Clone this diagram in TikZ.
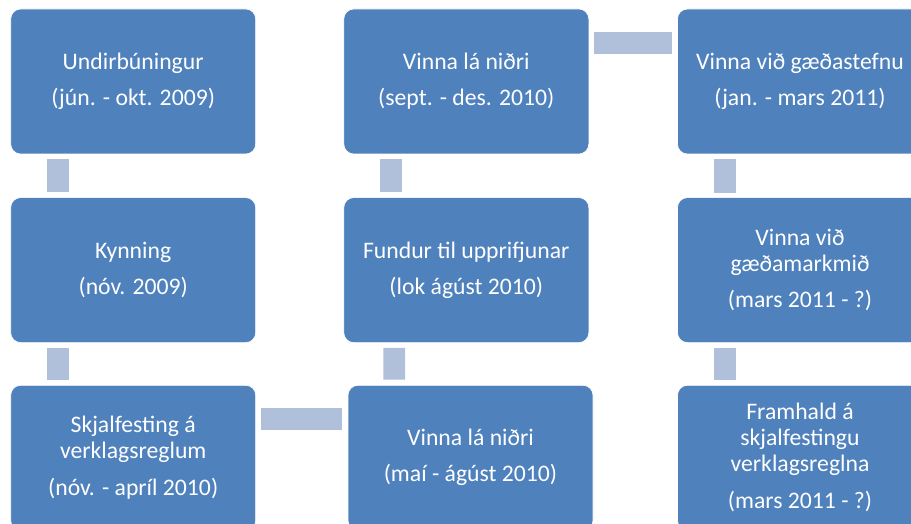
\documentclass[tikz,border=0pt]{standalone}
\usepackage{fontspec}
\setmainfont{Carlito}
\usetikzlibrary{positioning}
\definecolor{stageblue}{RGB}{79,129,189}
\definecolor{linkblue}{RGB}{176,191,218}

\begin{document}
\begin{tikzpicture}[
  x=1pt, y=-1pt,
  stage/.style = {draw=white, semithick, rounded corners=10pt, fill=stageblue, text=white,
                  align=center, minimum width=245pt, minimum height=145pt, inner sep=0pt,
                  font=\fontsize{23.7}{26}\selectfont},
  link/.style  = {linkblue, line width=21.8pt},
  hlink/.style = {linkblue, line width=22.3pt}]

\useasboundingbox (0,0) rectangle (911,524);
\clip (0,0) rectangle (911,524);

% stages: down the first column, up the middle one, down the last
\node[stage] (s1) at (133.2,81.5)  {Undirbúningur\\[10pt](jún. - okt. 2009)};
\node[stage] (s2) at (133.2,270.1) {Kynning\\[10pt](nóv. 2009)};
\node[stage] (s3) at (133.2,457.8) {Skjalfesting á\\verklagsreglum\\[11pt](nóv. - apríl 2010)};
\node[stage] (s4) at (470.5,457.8) {Vinna lá niðri\\[10pt](maí - ágúst 2010)};
\node[stage] (s5) at (466.3,270.1) {Fundur til upprifjunar\\[10pt](lok ágúst 2010)};
\node[stage] (s6) at (466.3,81.5)  {Vinna lá niðri\\[10pt](sept. - des. 2010)};
\node[stage] (s7) at (800,81.5)    {Vinna við gæðastefnu\\[10pt](jan. - mars 2011)};
\node[stage] (s8) at (800,270.1)   {Vinna við\\gæðamarkmið\\[10pt](mars 2011 - ?)};
\node[stage] (s9) at (800,457.8)   {Framhald á\\skjalfestingu\\verklagsreglna\\[11pt](mars 2011 - ?)};

% connecting bars
\draw[link] ([xshift=47.8pt,yshift=-5pt]s1.south west) -- ([xshift=47.8pt,yshift=5pt]s2.north west);
\draw[link] ([xshift=47.8pt,yshift=-5pt]s2.south west) -- ([xshift=47.8pt,yshift=5.3pt]s3.north west);
\draw[hlink] ([xshift=5pt,yshift=-34.2pt]s3.north east) -- ([xshift=-5.6pt,yshift=-34.2pt]s4.north west);
\draw[link] ([xshift=46.5pt,yshift=5.3pt]s4.north west) -- ([xshift=50.8pt,yshift=-5pt]s5.south west);
\draw[link] ([xshift=47.8pt,yshift=5pt]s5.north west) -- ([xshift=47.8pt,yshift=-5pt]s6.south west);
\draw[hlink] ([xshift=5.3pt,yshift=-34.3pt]s6.north east) -- ([xshift=-5.2pt,yshift=-34.3pt]s7.north west);
\draw[link] ([xshift=47.7pt,yshift=-5pt]s7.south west) -- ([xshift=47.7pt,yshift=4.6pt]s8.north west);
\draw[link] ([xshift=47.7pt,yshift=-5pt]s8.south west) -- ([xshift=47.7pt,yshift=5.3pt]s9.north west);

\end{tikzpicture}
\end{document}
